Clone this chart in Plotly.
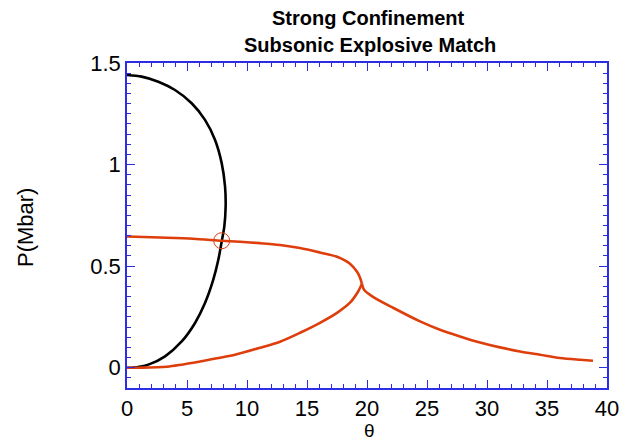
import plotly.graph_objects as go

# Black polar (theta, P)
black_theta = [0.0, 1.22, 2.61, 4.0, 5.39, 6.5, 7.33, 7.89, 8.17, 8.22, 8.11, 7.89, 7.61, 7.19, 6.5, 5.67, 4.56, 3.17, 1.78, 0.39, 0.0]
black_p = [1.441, 1.433, 1.408, 1.367, 1.302, 1.220, 1.122, 1.007, 0.892, 0.794, 0.696, 0.621, 0.531, 0.433, 0.318, 0.220, 0.129, 0.056, 0.015, 0.0, 0.0]

# Red polar: upper branch to cusp
red_up_theta = [0.0, 2.75, 5.5, 7.89, 9.42, 11.08, 12.75, 14.42, 16.08, 17.5, 18.58, 19.17, 19.42, 19.58]
red_up_p = [0.646, 0.641, 0.635, 0.625, 0.62, 0.613, 0.604, 0.589, 0.567, 0.546, 0.512, 0.472, 0.443, 0.413]

# Red polar: lower branch to cusp
red_lo_theta = [0.0, 1.08, 3.33, 6.08, 7.75, 9.0, 11.08, 12.75, 14.42, 16.08, 17.5, 18.58, 19.25, 19.58]
red_lo_p = [0.0, 0.0, 0.005, 0.03, 0.049, 0.064, 0.098, 0.128, 0.172, 0.221, 0.27, 0.32, 0.374, 0.413]

# Red tail beyond cusp
red_tail_theta = [19.58, 19.75, 20.5, 22.17, 24.42, 26.08, 27.75, 29.42, 31.08, 32.75, 34.42, 36.08, 37.75, 38.83]
red_tail_p = [0.413, 0.384, 0.349, 0.295, 0.228, 0.187, 0.154, 0.124, 0.100, 0.080, 0.064, 0.048, 0.039, 0.034]

# Match point
match_theta = [7.89]
match_p = [0.625]

title_lines = ["Strong Confinement", "Subsonic Explosive Match"]
x_label = "θ"
y_label = "P(Mbar)"

RED = "rgb(222,62,12)"
BLUE = "rgb(45,45,228)"
FONT = "Liberation Sans, Arial, sans-serif"

W, H = 622, 443
L, R, T, B = 127, 15, 63, 55

fig = go.Figure()
fig.add_trace(go.Scatter(x=black_theta, y=black_p, mode="lines",
                         line=dict(color="black", width=2.6, shape="spline", smoothing=0.8)))
for tx, ty in [(red_up_theta, red_up_p), (red_lo_theta, red_lo_p), (red_tail_theta, red_tail_p)]:
    fig.add_trace(go.Scatter(x=tx, y=ty, mode="lines",
                             line=dict(color=RED, width=2.6, shape="spline", smoothing=0.8)))
fig.add_trace(go.Scatter(x=match_theta, y=match_p, mode="markers",
                         marker=dict(symbol="circle-open", size=16, color=RED, line=dict(width=1, color=RED))))

axis_common = dict(
    showline=True, linecolor=BLUE, linewidth=1.5, mirror="allticks",
    ticks="inside", tickcolor=BLUE, tickwidth=1.3, ticklen=8,
    showgrid=False, zeroline=False, automargin=False,
    tickfont=dict(family=FONT, size=22, color="black"),
)

def px_x(px):
    return px / W

def px_y(py):
    return 1 - py / H

annotations = [
    dict(text="<b>%s</b>" % title_lines[0], x=px_x(368), y=px_y(18),
         xref="paper", yref="paper", showarrow=False, xanchor="center", yanchor="middle",
         font=dict(family=FONT, size=20, color="black")),
    dict(text="<b>%s</b>" % title_lines[1], x=px_x(370), y=px_y(45),
         xref="paper", yref="paper", showarrow=False, xanchor="center", yanchor="middle",
         font=dict(family=FONT, size=20, color="black")),
    dict(text=x_label, x=px_x(369), y=px_y(443),
         xref="paper", yref="paper", showarrow=False, xanchor="center", yanchor="bottom",
         font=dict(family=FONT, size=19, color="black")),
    dict(text=y_label, x=px_x(25), y=px_y(228), textangle=-90,
         xref="paper", yref="paper", showarrow=False, xanchor="center", yanchor="middle",
         font=dict(family=FONT, size=22, color="black")),
]
# convert container-pixel positions to paper coordinates of the plot area
for a in annotations:
    a["x"] = (a["x"] * W - L) / (W - L - R)
    a["y"] = ((a["y"] * H) - B) / (H - T - B)

fig.update_layout(
    width=W, height=H,
    margin=dict(l=L, r=R, t=T, b=B, autoexpand=False),
    paper_bgcolor="white", plot_bgcolor="white",
    showlegend=False,
    font=dict(family=FONT, color="black"),
    annotations=annotations,
    xaxis=dict(range=[0, 40], tickmode="linear", tick0=0, dtick=5,
               minor=dict(ticks="inside", dtick=1, ticklen=4, tickcolor=BLUE, tickwidth=1.3),
               **axis_common),
    yaxis=dict(range=[-0.1, 1.5], tickmode="linear", tick0=0, dtick=0.5,
               minor=dict(ticks="inside", dtick=0.05, ticklen=4, tickcolor=BLUE, tickwidth=1.3),
               **axis_common),
)

fig.write_html("out.html")
